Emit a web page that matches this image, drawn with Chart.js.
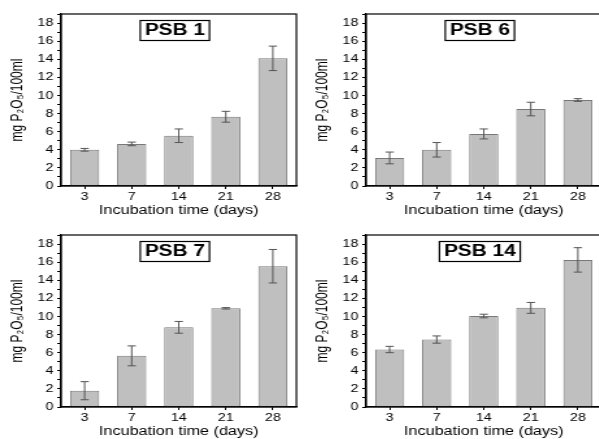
<!DOCTYPE html>
<html>
<head>
<meta charset="utf-8">
<script src="https://cdn.jsdelivr.net/npm/chart.js"></script>
<style>
  html, body { margin: 0; padding: 0; background: #fff; }
  body { width: 599px; height: 439px; position: relative; overflow: hidden; }
  /* the reference picture is stretched sideways, so each panel is too */
  .panel { position: absolute; width: 231px; height: 221px; transform: scaleX(1.3); transform-origin: 0 0; }
</style>
</head>
<body>
<div class="panel" style="left:0;top:0"><canvas id="c1"></canvas></div>
<div class="panel" style="left:305px;top:0"><canvas id="c2"></canvas></div>
<div class="panel" style="left:0;top:221px"><canvas id="c3"></canvas></div>
<div class="panel" style="left:305px;top:221px"><canvas id="c4"></canvas></div>
<script>
// Data
const days = ["3", "7", "14", "21", "28"];
const psb1 = [4.0, 4.65, 5.55, 7.65, 14.1];
const psb1Err = [0.15, 0.2, 0.75, 0.6, 1.35];
const psb6 = [3.1, 4.0, 5.75, 8.5, 9.5];
const psb6Err = [0.65, 0.8, 0.55, 0.75, 0.15];
const psb7 = [1.8, 5.65, 8.8, 10.9, 15.55];
const psb7Err = [1.0, 1.1, 0.65, 0.08, 1.85];
const psb14 = [6.35, 7.45, 10.05, 10.95, 16.25];
const psb14Err = [0.35, 0.4, 0.2, 0.6, 1.35];
const yMax = 19;
const yLabel = "mg P\u2082O\u2085/100ml";
const xLabel = "Incubation time (days)";

const FONT = "'Liberation Sans', Arial, sans-serif";

// error bars + frame + boxed panel title
const extrasPlugin = {
    id: "extras",
    afterDatasetsDraw(chart, args, opts) {
        const ctx = chart.ctx;
        const yScale = chart.scales.y;
        const meta = chart.getDatasetMeta(0);
        const errs = opts.errors || [];
        const values = chart.data.datasets[0].data;

        ctx.save();
        ctx.strokeStyle = "#555";
        ctx.lineWidth = 1;
        meta.data.forEach(function (bar, i) {
            const e = errs[i];
            if (!e) return;
            const yTop = yScale.getPixelForValue(values[i] + e);
            const yBot = yScale.getPixelForValue(values[i] - e);
            const cap = 3.2;
            ctx.beginPath();
            ctx.moveTo(bar.x, yTop); ctx.lineTo(bar.x, yBot);
            ctx.moveTo(bar.x - cap, yTop); ctx.lineTo(bar.x + cap, yTop);
            ctx.moveTo(bar.x - cap, yBot); ctx.lineTo(bar.x + cap, yBot);
            ctx.stroke();
        });

        // plot frame
        const a = chart.chartArea;
        ctx.strokeStyle = "#000";
        ctx.lineWidth = 1.2;
        ctx.strokeRect(a.left, a.top, a.right - a.left, a.bottom - a.top);

        // boxed title inside the plot
        ctx.font = "bold 16px " + FONT;
        const w = ctx.measureText(opts.label).width + 7;
        const cx = (a.left + a.right) / 2 - 3;
        const top = a.top + 6.5;
        ctx.fillStyle = "#fff";
        ctx.fillRect(cx - w / 2, top, w, 20);
        ctx.lineWidth = 1.2;
        ctx.strokeRect(cx - w / 2, top, w, 20);
        ctx.fillStyle = "#000";
        ctx.textAlign = "center";
        ctx.textBaseline = "middle";
        ctx.fillText(opts.label, cx, top + 10.5);
        ctx.restore();
    }
};

function makeChart(id, label, values, errors) {
    const ctx = document.getElementById(id).getContext("2d");
    return new Chart(ctx, {
        type: "bar",
        data: {
            labels: days,
            datasets: [{
                data: values,
                backgroundColor: "#bfbfbf",
                borderColor: "#787878",
                borderWidth: 1,
                borderSkipped: false,
                barPercentage: 0.62,
                categoryPercentage: 1
            }]
        },
        options: {
            responsive: true,
            maintainAspectRatio: false,
            animation: false,
            layout: { padding: { top: 14, right: 3, bottom: 0, left: 0 } },
            plugins: {
                legend: { display: false },
                tooltip: { enabled: false },
                extras: { label: label, errors: errors }
            },
            scales: {
                x: {
                    afterFit: function (scale) { scale.height = 35; },
                    border: { display: true, color: "#000", width: 1.2 },
                    grid: { display: true, offset: false, drawOnChartArea: false, drawTicks: true, tickLength: 3, color: "#000" },
                    ticks: { color: "#000", padding: 1, maxRotation: 0, font: { family: FONT, size: 11 } },
                    title: { display: true, text: xLabel, color: "#000", padding: { top: 0, bottom: 3 }, font: { family: FONT, size: 12.5 } }
                },
                y: {
                    min: 0,
                    max: yMax,
                    afterFit: function (scale) { scale.width = 47; },
                    border: { display: true, color: "#000", width: 1.2 },
                    grid: { display: true, drawOnChartArea: false, drawTicks: true, tickLength: 3, color: "#000" },
                    ticks: {
                        stepSize: 1,
                        color: "#000",
                        padding: 3,
                        autoSkip: false,
                        font: { family: FONT, size: 11 },
                        callback: function (v) { return v % 2 === 0 ? String(v) : ""; }
                    },
                    title: { display: true, text: yLabel, color: "#000", padding: { top: 6, bottom: 0 }, font: { family: FONT, size: 12 } }
                }
            }
        },
        plugins: [extrasPlugin]
    });
}

makeChart("c1", "PSB 1", psb1, psb1Err);
makeChart("c2", "PSB 6", psb6, psb6Err);
makeChart("c3", "PSB 7", psb7, psb7Err);
makeChart("c4", "PSB 14", psb14, psb14Err);
</script>
</body>
</html>
